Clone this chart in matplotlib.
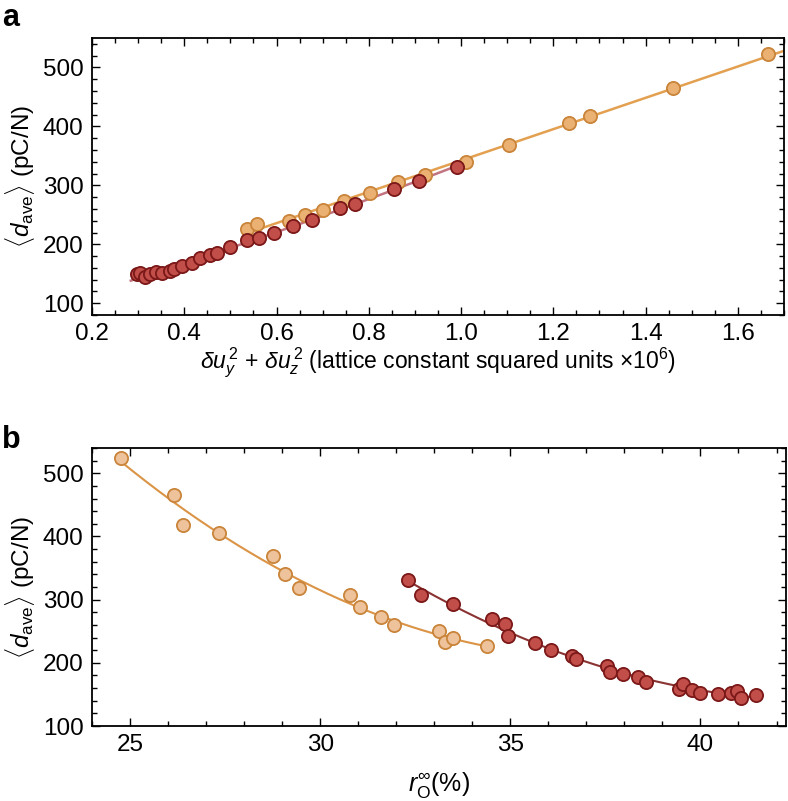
import numpy as np
import matplotlib.pyplot as plt
from matplotlib.ticker import MultipleLocator

plt.rcParams['font.family'] = ['Liberation Sans', 'DejaVu Sans']
plt.rcParams['mathtext.fontset'] = 'custom'
plt.rcParams['mathtext.rm'] = 'Liberation Sans'
plt.rcParams['mathtext.it'] = 'Liberation Sans:italic'
plt.rcParams['mathtext.bf'] = 'Liberation Sans:bold'

# Panel a: <d_ave> vs du_y^2 + du_z^2
a_red_x = [0.297, 0.305, 0.315, 0.326, 0.339, 0.352, 0.370, 0.377, 0.395, 0.417,
           0.435, 0.456, 0.471, 0.498, 0.537, 0.561, 0.595, 0.636, 0.677, 0.737,
           0.769, 0.854, 0.908, 0.992]
a_red_y = [149.5, 150.7, 145, 149.5, 153, 150.7, 155, 157.4, 163, 167.6,
           176, 181.6, 184.5, 194.6, 207, 211, 220, 231, 242, 262,
           269, 294, 307, 331]
a_org_x = [0.535, 0.558, 0.628, 0.662, 0.701, 0.746, 0.803, 0.863, 0.921, 1.010,
           1.103, 1.234, 1.279, 1.459, 1.665]
a_org_y = [226, 235, 239.5, 250, 259, 273, 287.5, 305, 318, 340,
           368.6, 405, 417, 465, 523]

# Panel b: <d_ave> vs r_O
b_org_x = [24.77, 26.16, 26.40, 27.34, 28.76, 29.07, 29.45, 30.78, 31.04, 31.59,
           31.94, 33.12, 33.27, 33.49, 34.39]
b_org_y = [523.6, 465.5, 418, 405.9, 369, 341, 318, 307, 289, 273,
           260, 250.5, 233.4, 238.8, 226.6]
b_red_x = [32.31, 32.66, 33.48, 34.52, 34.87, 34.95, 35.64, 36.06, 36.63, 36.73,
           37.53, 37.61, 37.96, 38.37, 38.58, 39.44, 39.54, 39.77, 40.00, 40.45,
           40.79, 40.96, 41.07, 41.46]
b_red_y = [331, 307, 293.5, 268.8, 262, 243, 232, 220.7, 211, 206,
           195, 185.4, 182, 177, 169.6, 159, 166, 157, 151.7, 150.6,
           151.7, 155.4, 144.3, 148.6]

red_fill, red_edge = '#C24E4A', '#7A1818'
org_fill_a, org_fill_b, org_edge = '#EAB173', '#EEC39C', '#C9843A'

fig = plt.figure(figsize=(7.88, 8.01), dpi=100)
ax1 = fig.add_axes((0.1168, 0.6067, 0.8781, 0.3459))
ax2 = fig.add_axes((0.1168, 0.0936, 0.8807, 0.3471))


def style(ax):
    ax.tick_params(which='both', direction='in', top=True, right=True,
                   labelsize=17.5, width=1.0, pad=6)
    ax.tick_params(which='major', length=6)
    ax.tick_params(which='minor', length=3.5)
    for s in ax.spines.values():
        s.set_linewidth(1.3)


def fit_line(ax, x, y, deg, x0, x1, color, lw):
    c = np.polyfit(x, y, deg)
    xs = np.linspace(x0, x1, 200)
    ax.plot(xs, np.polyval(c, xs), color=color, lw=lw, zorder=2)


ylab = r'$\langle d_{\rm ave}\rangle$ (pC/N)'

# Panel a
fit_line(ax1, a_red_x, a_red_y, 2, 0.284, max(a_red_x), '#C27580', 1.8)
fit_line(ax1, a_org_x, a_org_y, 1, min(a_org_x), 1.7, '#E3A050', 1.8)
ax1.plot(a_org_x, a_org_y, 'o', ms=9.5, mfc=org_fill_a, mec=org_edge, mew=1.3, zorder=3)
ax1.plot(a_red_x, a_red_y, 'o', ms=9.5, mfc=red_fill, mec=red_edge, mew=1.3, zorder=4)
ax1.set_xlim(0.2, 1.7)
ax1.set_ylim(80, 550)
ax1.xaxis.set_major_locator(MultipleLocator(0.2))
ax1.xaxis.set_minor_locator(MultipleLocator(0.05))
ax1.yaxis.set_major_locator(MultipleLocator(100))
ax1.yaxis.set_minor_locator(MultipleLocator(20))
ax1.xaxis.set_major_formatter(plt.FormatStrFormatter('%.1f'))
style(ax1)
ax1.set_xlabel(r'$\delta u_y^{\,2}$ + $\delta u_z^{\,2}$ (lattice constant squared units ×10$^6$)',
               fontsize=16.5, labelpad=0)
ax1.set_ylabel(ylab, fontsize=17.5, labelpad=4)

# Panel b
fit_line(ax2, b_org_x, b_org_y, 2, min(b_org_x), max(b_org_x), '#DB9446', 1.5)
fit_line(ax2, b_red_x, b_red_y, 2, min(b_red_x), max(b_red_x), '#8A3333', 1.5)
ax2.plot(b_org_x, b_org_y, 'o', ms=9.5, mfc=org_fill_b, mec=org_edge, mew=1.3, zorder=3)
ax2.plot(b_red_x, b_red_y, 'o', ms=9.5, mfc=red_fill, mec=red_edge, mew=1.3, zorder=4)
ax2.set_xlim(24, 42.25)
ax2.set_ylim(100, 540)
ax2.xaxis.set_major_locator(MultipleLocator(5))
ax2.xaxis.set_minor_locator(MultipleLocator(1))
ax2.yaxis.set_major_locator(MultipleLocator(100))
ax2.yaxis.set_minor_locator(MultipleLocator(20))
style(ax2)
ax2.set_xlabel(r'$r_{\rm O}^{\infty}$(%)', fontsize=18, labelpad=10)
ax2.set_ylabel(ylab, fontsize=17.5, labelpad=4)

fig.text(0.003, 0.977, 'a', fontsize=22, fontweight='bold', va='center')
fig.text(0.003, 0.451, 'b', fontsize=22, fontweight='bold', va='center')

fig.savefig('out.png', dpi=100)
